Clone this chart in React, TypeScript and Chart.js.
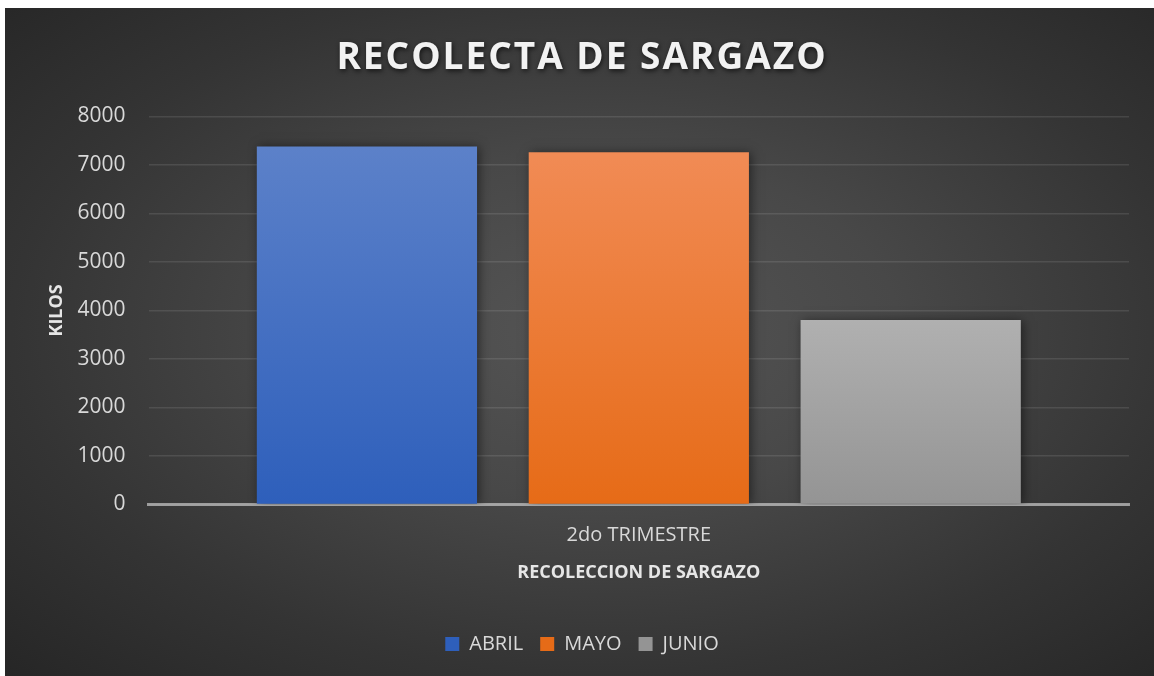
import React, { useEffect, useRef } from "react";
import { Chart, registerables } from "chart.js";

Chart.register(...registerables);

const chartTitle = "RECOLECTA DE SARGAZO";
const xAxisTitle = "RECOLECCION DE SARGAZO";
const yAxisTitle = "KILOS";
const categories = ["2do TRIMESTRE"];
const seriesNames = ["ABRIL", "MAYO", "JUNIO"];
const abrilValues = [7380];
const mayoValues = [7260];
const junioValues = [3800];
const yMin = 0;
const yMax = 8000;
const yStep = 1000;

const FONT = "'Open Sans', 'DejaVu Sans', sans-serif";

function barGradient(top: string, bottom: string) {
  return (c: any) => {
    const chart = c.chart;
    const area = chart.chartArea;
    const y = chart.scales && chart.scales.y;
    if (!area || !y || typeof c.raw !== "number") return bottom;
    const yTop = y.getPixelForValue(c.raw);
    const g = chart.ctx.createLinearGradient(0, yTop, 0, area.bottom);
    g.addColorStop(0, top);
    g.addColorStop(1, bottom);
    return g;
  };
}

const effectsPlugin = {
  id: "effects",
  beforeDraw(chart: any) {
    const tb = chart.titleBlock;
    if (tb && !tb.__patched) {
      const orig = tb.draw.bind(tb);
      tb.draw = (...args: any[]) => {
        const ctx = chart.ctx;
        ctx.save();
        (ctx as any).letterSpacing = "2px";
        ctx.shadowColor = "rgba(0,0,0,0.65)";
        ctx.shadowBlur = 5;
        ctx.shadowOffsetX = 1;
        ctx.shadowOffsetY = 2;
        orig(...args);
        ctx.restore();
      };
      tb.__patched = true;
    }
  },
  beforeDatasetsDraw(chart: any) {
    const ctx = chart.ctx;
    ctx.save();
    ctx.shadowColor = "rgba(0,0,0,0.5)";
    ctx.shadowBlur = 10;
    ctx.shadowOffsetX = 2;
    ctx.shadowOffsetY = 1;
  },
  afterDatasetsDraw(chart: any) {
    chart.ctx.restore();
  },
};

export default function App() {
  const canvasRef = useRef<HTMLCanvasElement | null>(null);

  useEffect(() => {
    if (!canvasRef.current) return;
    const chart = new Chart(canvasRef.current, {
      type: "bar",
      data: {
        labels: categories,
        datasets: [
          {
            label: seriesNames[0],
            data: abrilValues,
            backgroundColor: barGradient("#5c81c9", "#2e5fbb"),
          },
          {
            label: seriesNames[1],
            data: mayoValues,
            backgroundColor: barGradient("#f18b55", "#e66b17"),
          },
          {
            label: seriesNames[2],
            data: junioValues,
            backgroundColor: barGradient("#b0b0b0", "#949494"),
          },
        ],
      },
      plugins: [effectsPlugin],
      options: {
        animation: false,
        responsive: true,
        maintainAspectRatio: false,
        events: [],
        layout: { padding: { left: 30, right: 25, top: 0, bottom: 12 } },
        datasets: {
          bar: { categoryPercentage: 0.832, barPercentage: 0.81 },
        },
        scales: {
          x: {
            z: 1,
            grid: { display: false, drawTicks: false },
            border: { display: true, color: "rgba(200,200,200,0.7)", width: 3 },
            ticks: { color: "#d9d9d9", font: { family: FONT, size: 20 }, padding: 19 },
            title: {
              display: true,
              text: xAxisTitle,
              color: "#e6e6e6",
              font: { family: FONT, size: 18, weight: "bold" },
              padding: { top: -4, bottom: 33 },
            },
          },
          y: {
            min: yMin,
            max: yMax,
            grid: { color: "rgba(255,255,255,0.10)", lineWidth: 1.5, drawTicks: false },
            border: { display: false },
            ticks: {
              stepSize: yStep,
              color: "#d9d9d9",
              font: { family: FONT, size: 21 },
              padding: 23,
              callback: (v: any) => String(v),
            },
            title: {
              display: true,
              text: yAxisTitle,
              color: "#e6e6e6",
              font: { family: FONT, size: 18, weight: "bold" },
              padding: { top: 11, bottom: -13 },
            },
          },
        },
        plugins: {
          tooltip: { enabled: false },
          title: {
            display: true,
            text: chartTitle,
            color: "#f2f2f2",
            font: { family: FONT, size: 37, weight: "bold" },
            padding: { top: 28, bottom: 36 },
          },
          legend: {
            position: "bottom",
            labels: {
              color: "#d9d9d9",
              font: { family: FONT, size: 20 },
              boxWidth: 14,
              boxHeight: 14,
              padding: 17,
            },
          },
        },
      },
    });
    return () => chart.destroy();
  }, []);

  return (
    <div
      style={{
        position: "absolute",
        left: 5,
        top: 8,
        width: 1149,
        height: 668,
        background:
          "radial-gradient(ellipse farthest-corner at 52% 48%, #555555 0%, #484848 35%, #343434 70%, #262626 100%)",
      }}
    >
      <canvas ref={canvasRef} style={{ width: "100%", height: "100%" }} />
    </div>
  );
}
